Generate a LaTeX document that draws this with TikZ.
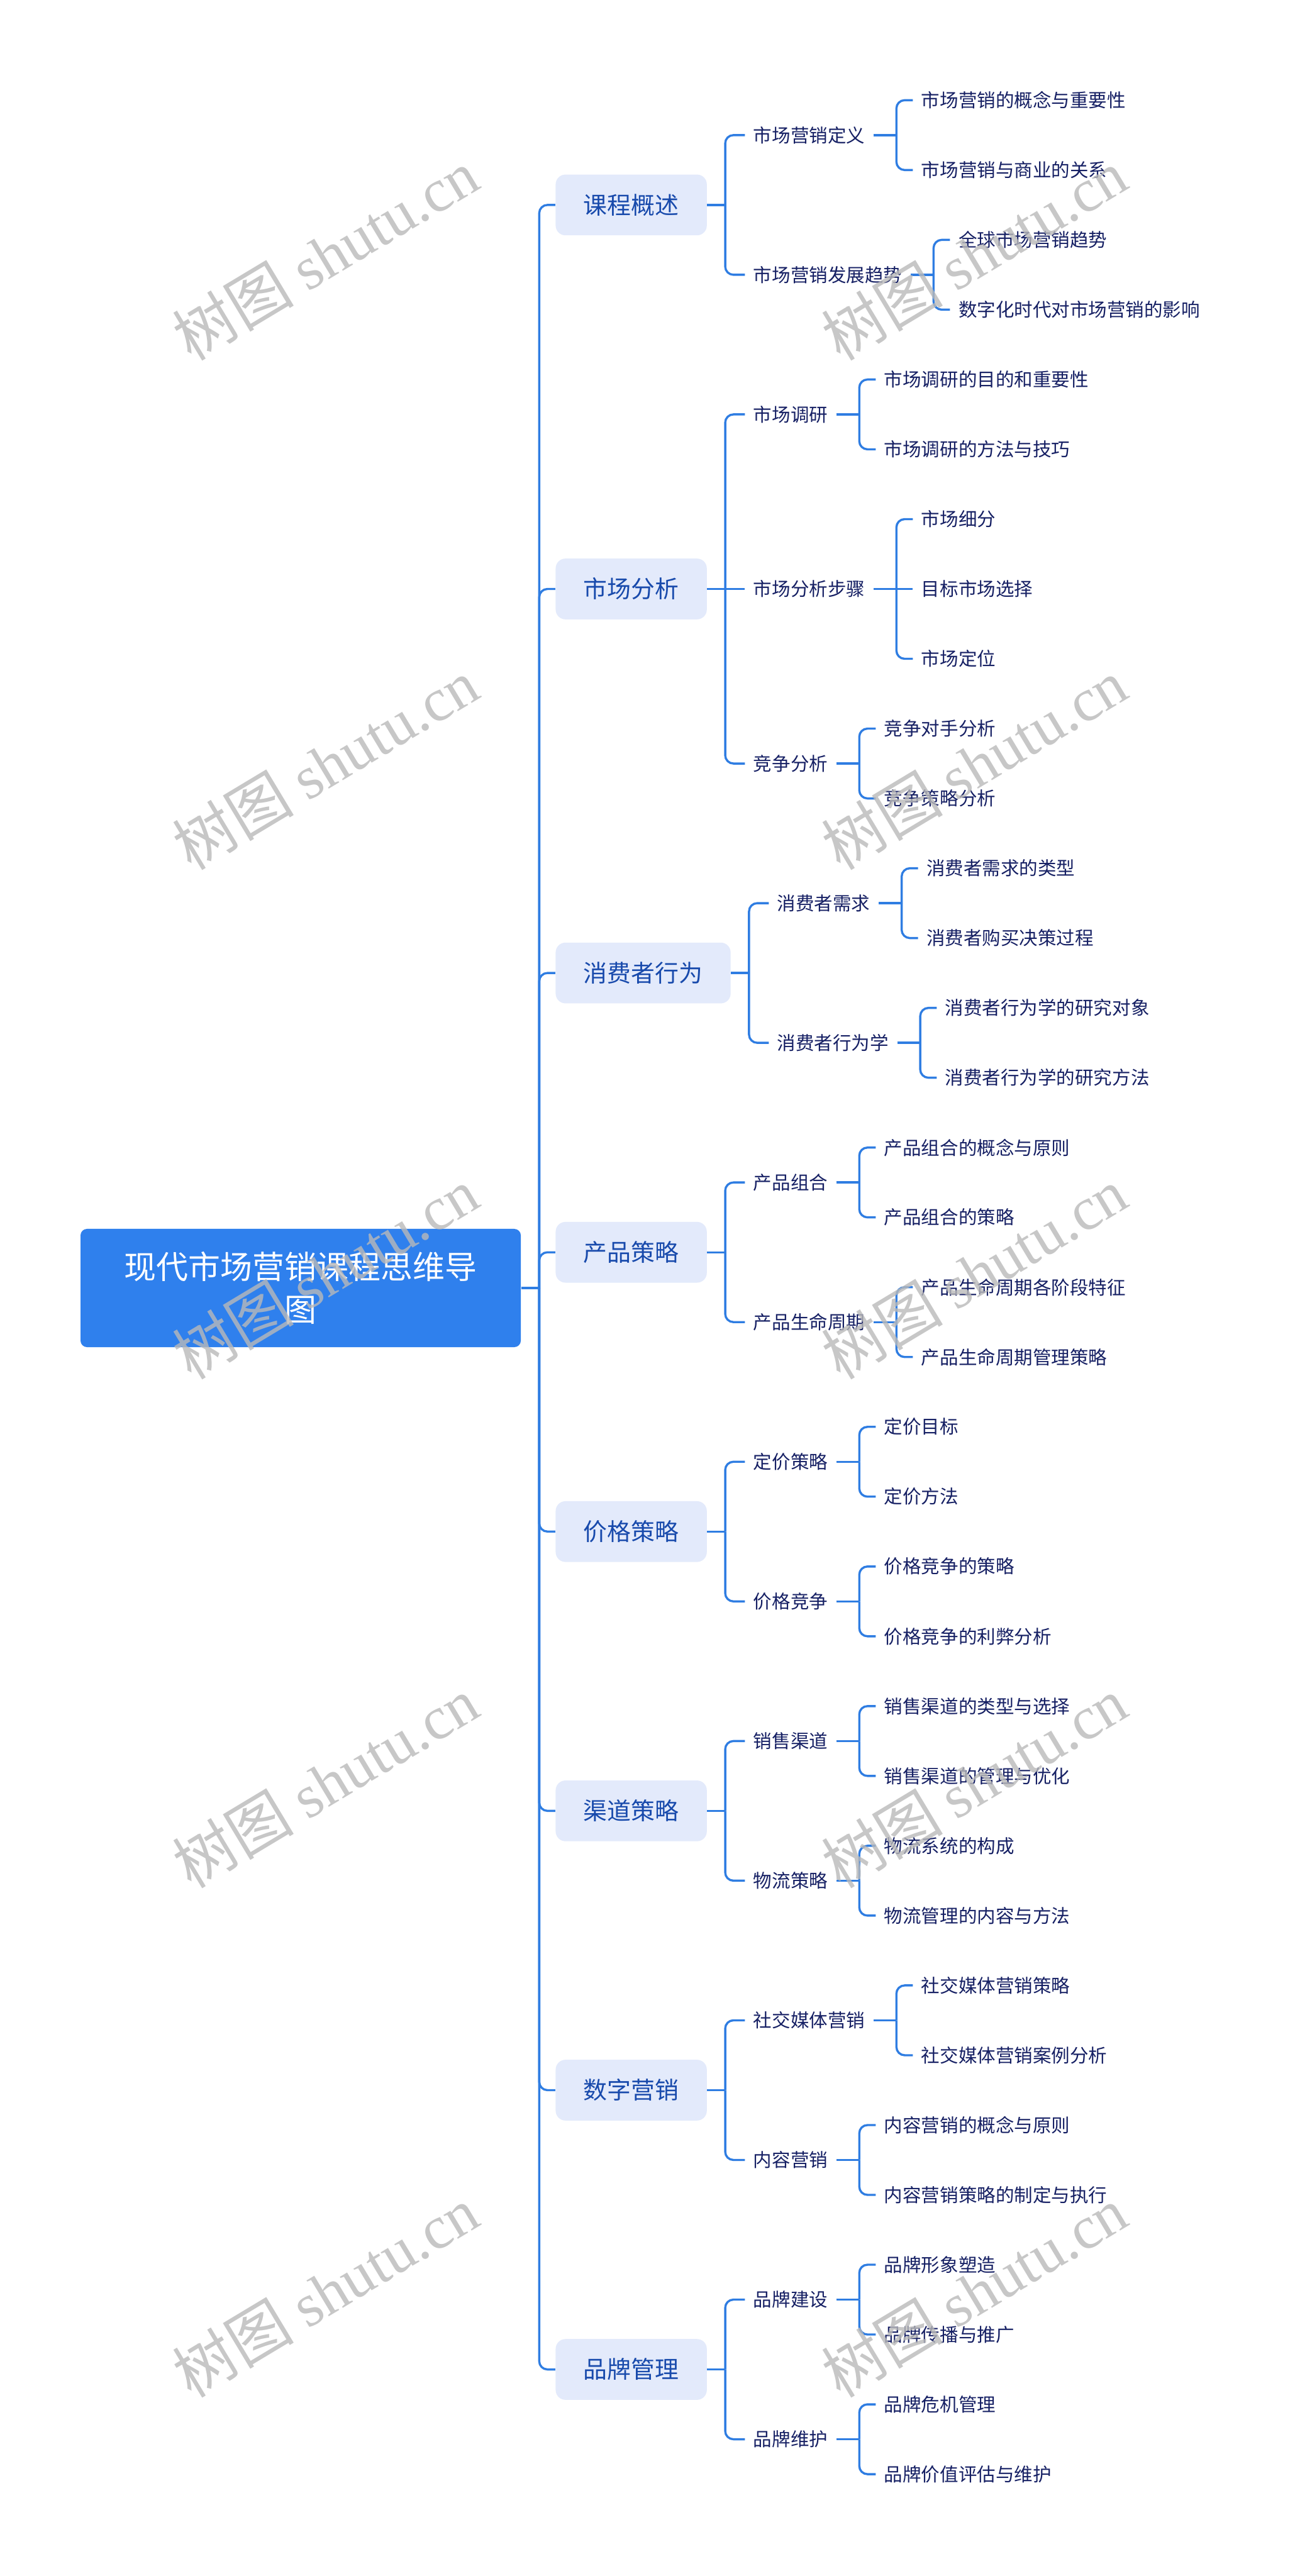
\documentclass[tikz,border=0pt]{standalone}
\usepackage{fontspec}
\setmainfont{Noto Sans CJK SC}
\newfontfamily\wmlatin{Liberation Serif}
\usetikzlibrary{calc}
\definecolor{linec}{RGB}{47,125,226}
\definecolor{rootc}{RGB}{47,128,237}
\definecolor{lonefill}{RGB}{227,234,251}
\definecolor{lonetext}{RGB}{24,74,172}
\definecolor{txt}{RGB}{22,32,100}
\definecolor{wm}{RGB}{185,185,185}
\begin{document}
\begin{tikzpicture}[x=1pt,y=-1pt,
  rootbox/.style={fill=rootc, rounded corners=4pt, minimum width=268pt, minimum height=72pt, text=white, font=\fontsize{19.5}{26}\selectfont, align=center, inner sep=0pt},
  topic/.style={fill=lonefill, rounded corners=6pt, minimum height=37pt, inner xsep=17pt, text=lonetext, font=\fontsize{14.5}{17}\selectfont, anchor=west},
  sub/.style={text=txt, font=\fontsize{11.3}{13}\selectfont, inner xsep=5pt, inner ysep=3pt, anchor=west},
  conn/.style={draw=linec, line width=1.3pt},
  elbow/.style={conn, rounded corners=5pt},
  wmark/.style={text=wm, opacity=0.8, rotate=31, font=\fontsize{37}{37}\selectfont, inner sep=0pt}
]
\useasboundingbox (0,0) rectangle (788,1568);
\fill[white] (0,0) rectangle (788,1568);

% root
\node[rootbox] (root) at (183,784) {现代市场营销课程思维导\\图};
\draw[conn] (root.east) -- ++(11,0) coordinate (rj);

% ---------- topics ----------
\node[topic] (A) at (338,124.75) {课程概述};
\node[topic] (B) at (338,358.5) {市场分析};
\node[topic] (C) at (338,592.25) {消费者行为};
\node[topic] (D) at (338,762.25) {产品策略};
\node[topic] (E) at (338,932.25) {价格策略};
\node[topic] (F) at (338,1102.25) {渠道策略};
\node[topic] (G) at (338,1272.25) {数字营销};
\node[topic] (H) at (338,1442.25) {品牌管理};
\foreach \t in {A,B,C,D,E,F,G,H}{
  \draw[elbow] (rj) |- (\t.west);
  \draw[conn] (\t.east) -- ++(11,0) coordinate (\t j);
}

% ---------- A ----------
\node[sub] (A1) at ($(Aj)+(12,-42.5)$) {市场营销定义};
\node[sub] (A2) at ($(Aj)+(12,42.5)$) {市场营销发展趋势};
\draw[elbow] (Aj) |- (A1.west);
\draw[elbow] (Aj) |- (A2.west);
\draw[conn] (A1.east) -- ++(14,0) coordinate (A1j);
\node[sub] (A11) at ($(A1j)+(10,-21.25)$) {市场营销的概念与重要性};
\node[sub] (A12) at ($(A1j)+(10,21.25)$) {市场营销与商业的关系};
\draw[elbow] (A1j) |- (A11.west);
\draw[elbow] (A1j) |- (A12.west);
\draw[conn] (A2.east) -- ++(14,0) coordinate (A2j);
\node[sub] (A21) at ($(A2j)+(10,-21.25)$) {全球市场营销趋势};
\node[sub] (A22) at ($(A2j)+(10,21.25)$) {数字化时代对市场营销的影响};
\draw[elbow] (A2j) |- (A21.west);
\draw[elbow] (A2j) |- (A22.west);

% ---------- B ----------
\node[sub] (B1) at ($(Bj)+(12,-106.25)$) {市场调研};
\node[sub] (B2) at ($(Bj)+(12,0)$) {市场分析步骤};
\node[sub] (B3) at ($(Bj)+(12,106.25)$) {竞争分析};
\draw[elbow] (Bj) |- (B1.west);
\draw[conn] (Bj) -- (B2.west);
\draw[elbow] (Bj) |- (B3.west);
\draw[conn] (B1.east) -- ++(14,0) coordinate (B1j);
\node[sub] (B11) at ($(B1j)+(10,-21.25)$) {市场调研的目的和重要性};
\node[sub] (B12) at ($(B1j)+(10,21.25)$) {市场调研的方法与技巧};
\draw[elbow] (B1j) |- (B11.west);
\draw[elbow] (B1j) |- (B12.west);
\draw[conn] (B2.east) -- ++(14,0) coordinate (B2j);
\node[sub] (B21) at ($(B2j)+(10,-42.5)$) {市场细分};
\node[sub] (B22) at ($(B2j)+(10,0)$) {目标市场选择};
\node[sub] (B23) at ($(B2j)+(10,42.5)$) {市场定位};
\draw[elbow] (B2j) |- (B21.west);
\draw[conn] (B2j) -- (B22.west);
\draw[elbow] (B2j) |- (B23.west);
\draw[conn] (B3.east) -- ++(14,0) coordinate (B3j);
\node[sub] (B31) at ($(B3j)+(10,-21.25)$) {竞争对手分析};
\node[sub] (B32) at ($(B3j)+(10,21.25)$) {竞争策略分析};
\draw[elbow] (B3j) |- (B31.west);
\draw[elbow] (B3j) |- (B32.west);

% ---------- C ----------
\node[sub] (C1) at ($(Cj)+(12,-42.5)$) {消费者需求};
\node[sub] (C2) at ($(Cj)+(12,42.5)$) {消费者行为学};
\draw[elbow] (Cj) |- (C1.west);
\draw[elbow] (Cj) |- (C2.west);
\draw[conn] (C1.east) -- ++(14,0) coordinate (C1j);
\node[sub] (C11) at ($(C1j)+(10,-21.25)$) {消费者需求的类型};
\node[sub] (C12) at ($(C1j)+(10,21.25)$) {消费者购买决策过程};
\draw[elbow] (C1j) |- (C11.west);
\draw[elbow] (C1j) |- (C12.west);
\draw[conn] (C2.east) -- ++(14,0) coordinate (C2j);
\node[sub] (C21) at ($(C2j)+(10,-21.25)$) {消费者行为学的研究对象};
\node[sub] (C22) at ($(C2j)+(10,21.25)$) {消费者行为学的研究方法};
\draw[elbow] (C2j) |- (C21.west);
\draw[elbow] (C2j) |- (C22.west);

% ---------- D ----------
\node[sub] (D1) at ($(Dj)+(12,-42.5)$) {产品组合};
\node[sub] (D2) at ($(Dj)+(12,42.5)$) {产品生命周期};
\draw[elbow] (Dj) |- (D1.west);
\draw[elbow] (Dj) |- (D2.west);
\draw[conn] (D1.east) -- ++(14,0) coordinate (D1j);
\node[sub] (D11) at ($(D1j)+(10,-21.25)$) {产品组合的概念与原则};
\node[sub] (D12) at ($(D1j)+(10,21.25)$) {产品组合的策略};
\draw[elbow] (D1j) |- (D11.west);
\draw[elbow] (D1j) |- (D12.west);
\draw[conn] (D2.east) -- ++(14,0) coordinate (D2j);
\node[sub] (D21) at ($(D2j)+(10,-21.25)$) {产品生命周期各阶段特征};
\node[sub] (D22) at ($(D2j)+(10,21.25)$) {产品生命周期管理策略};
\draw[elbow] (D2j) |- (D21.west);
\draw[elbow] (D2j) |- (D22.west);

% ---------- E ----------
\node[sub] (E1) at ($(Ej)+(12,-42.5)$) {定价策略};
\node[sub] (E2) at ($(Ej)+(12,42.5)$) {价格竞争};
\draw[elbow] (Ej) |- (E1.west);
\draw[elbow] (Ej) |- (E2.west);
\draw[conn] (E1.east) -- ++(14,0) coordinate (E1j);
\node[sub] (E11) at ($(E1j)+(10,-21.25)$) {定价目标};
\node[sub] (E12) at ($(E1j)+(10,21.25)$) {定价方法};
\draw[elbow] (E1j) |- (E11.west);
\draw[elbow] (E1j) |- (E12.west);
\draw[conn] (E2.east) -- ++(14,0) coordinate (E2j);
\node[sub] (E21) at ($(E2j)+(10,-21.25)$) {价格竞争的策略};
\node[sub] (E22) at ($(E2j)+(10,21.25)$) {价格竞争的利弊分析};
\draw[elbow] (E2j) |- (E21.west);
\draw[elbow] (E2j) |- (E22.west);

% ---------- F ----------
\node[sub] (F1) at ($(Fj)+(12,-42.5)$) {销售渠道};
\node[sub] (F2) at ($(Fj)+(12,42.5)$) {物流策略};
\draw[elbow] (Fj) |- (F1.west);
\draw[elbow] (Fj) |- (F2.west);
\draw[conn] (F1.east) -- ++(14,0) coordinate (F1j);
\node[sub] (F11) at ($(F1j)+(10,-21.25)$) {销售渠道的类型与选择};
\node[sub] (F12) at ($(F1j)+(10,21.25)$) {销售渠道的管理与优化};
\draw[elbow] (F1j) |- (F11.west);
\draw[elbow] (F1j) |- (F12.west);
\draw[conn] (F2.east) -- ++(14,0) coordinate (F2j);
\node[sub] (F21) at ($(F2j)+(10,-21.25)$) {物流系统的构成};
\node[sub] (F22) at ($(F2j)+(10,21.25)$) {物流管理的内容与方法};
\draw[elbow] (F2j) |- (F21.west);
\draw[elbow] (F2j) |- (F22.west);

% ---------- G ----------
\node[sub] (G1) at ($(Gj)+(12,-42.5)$) {社交媒体营销};
\node[sub] (G2) at ($(Gj)+(12,42.5)$) {内容营销};
\draw[elbow] (Gj) |- (G1.west);
\draw[elbow] (Gj) |- (G2.west);
\draw[conn] (G1.east) -- ++(14,0) coordinate (G1j);
\node[sub] (G11) at ($(G1j)+(10,-21.25)$) {社交媒体营销策略};
\node[sub] (G12) at ($(G1j)+(10,21.25)$) {社交媒体营销案例分析};
\draw[elbow] (G1j) |- (G11.west);
\draw[elbow] (G1j) |- (G12.west);
\draw[conn] (G2.east) -- ++(14,0) coordinate (G2j);
\node[sub] (G21) at ($(G2j)+(10,-21.25)$) {内容营销的概念与原则};
\node[sub] (G22) at ($(G2j)+(10,21.25)$) {内容营销策略的制定与执行};
\draw[elbow] (G2j) |- (G21.west);
\draw[elbow] (G2j) |- (G22.west);

% ---------- H ----------
\node[sub] (H1) at ($(Hj)+(12,-42.5)$) {品牌建设};
\node[sub] (H2) at ($(Hj)+(12,42.5)$) {品牌维护};
\draw[elbow] (Hj) |- (H1.west);
\draw[elbow] (Hj) |- (H2.west);
\draw[conn] (H1.east) -- ++(14,0) coordinate (H1j);
\node[sub] (H11) at ($(H1j)+(10,-21.25)$) {品牌形象塑造};
\node[sub] (H12) at ($(H1j)+(10,21.25)$) {品牌传播与推广};
\draw[elbow] (H1j) |- (H11.west);
\draw[elbow] (H1j) |- (H12.west);
\draw[conn] (H2.east) -- ++(14,0) coordinate (H2j);
\node[sub] (H21) at ($(H2j)+(10,-21.25)$) {品牌危机管理};
\node[sub] (H22) at ($(H2j)+(10,21.25)$) {品牌价值评估与维护};
\draw[elbow] (H2j) |- (H21.west);
\draw[elbow] (H2j) |- (H22.west);

% ---------- watermarks ----------
\foreach \wy in {155,465,775,1085,1395}{
  \foreach \wx in {198,593}{
    \node[wmark] (wm-\wx-\wy) at (\wx,\wy) {树图 {\wmlatin shutu.cn}};
  }
}
\end{tikzpicture}
\end{document}
